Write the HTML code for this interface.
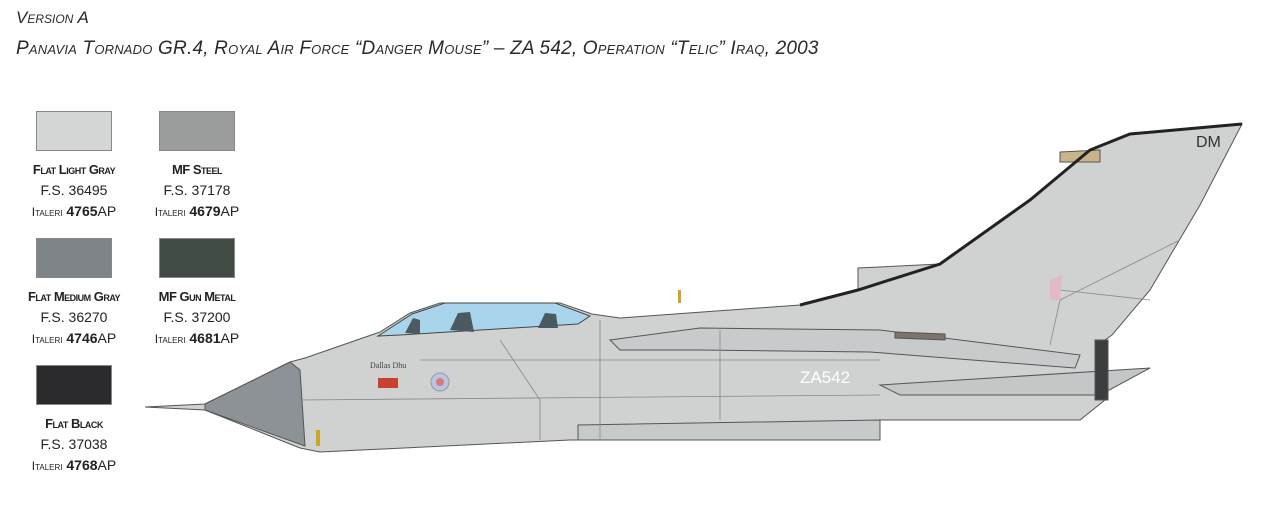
<!DOCTYPE html>
<html><head><meta charset="utf-8"><style>
body{margin:0;width:1280px;height:506px;background:#fff;overflow:hidden;position:relative;font-family:"Liberation Sans",sans-serif;color:#222}
.h{position:absolute;left:16px;font-style:italic;font-variant:small-caps;font-size:19px;white-space:nowrap;color:#2a2a2a}
.sw{position:absolute;width:76px;height:40px;border:1px solid #888;box-sizing:border-box}
.lb{position:absolute;width:140px;text-align:center;font-size:14px;line-height:21px;color:#222}
.lb b{font-variant:small-caps;font-size:13px;letter-spacing:-0.5px}
.it{font-variant:small-caps;font-size:12px}
.lb strong{font-size:14px}
</style></head><body>
<div class="h" style="top:8px;font-size:17px">Version A</div>
<div class="h" style="top:38px;letter-spacing:0.2px">Panavia Tornado GR.4, Royal Air Force “Danger Mouse” – ZA 542, Operation “Telic” Iraq, 2003</div>

<div class="sw" style="left:36px;top:111px;background:#d4d7d6"></div>
<div class="sw" style="left:159px;top:111px;background:#9b9d9d"></div>
<div class="sw" style="left:36px;top:238px;background:#7e8487"></div>
<div class="sw" style="left:159px;top:238px;background:#3f4b43"></div>
<div class="sw" style="left:36px;top:365px;background:#2b2b2d"></div>

<div class="lb" style="left:4px;top:159px"><b>Flat Light Gray</b><br>F.S. 36495<br><span class="it">Italeri</span> <strong>4765</strong>AP</div>
<div class="lb" style="left:127px;top:159px"><b>MF Steel</b><br>F.S. 37178<br><span class="it">Italeri</span> <strong>4679</strong>AP</div>
<div class="lb" style="left:4px;top:286px"><b>Flat Medium Gray</b><br>F.S. 36270<br><span class="it">Italeri</span> <strong>4746</strong>AP</div>
<div class="lb" style="left:127px;top:286px"><b>MF Gun Metal</b><br>F.S. 37200<br><span class="it">Italeri</span> <strong>4681</strong>AP</div>
<div class="lb" style="left:4px;top:413px"><b>Flat Black</b><br>F.S. 37038<br><span class="it">Italeri</span> <strong>4768</strong>AP</div>

<svg width="1280" height="506" style="position:absolute;left:0;top:0" viewBox="0 0 1280 506">
<g stroke="#555" stroke-width="1" fill="#cfd2d1">
<path d="M145,407 L205,404 L290,362 L305,358 L380,332 L410,313 L440,303 L560,303 L592,314 L620,318 L800,305 L858,290 L858,268 L940,264 L1030,200 L1090,150 L1130,134 L1242,124 L1200,205 L1150,290 L1112,335 L1105,340 L1105,400 L1080,420 L880,420 L870,440 L570,440 L320,452 L300,448 L205,410 Z"/>
<path d="M205,404 L290,362 L300,370 L305,446 L205,410 Z" fill="#8c9295"/>
<path d="M378,336 L412,314 L445,303 L555,303 L590,316 L578,324 L400,335 Z" fill="#a9d5ec" stroke="#444"/>
<path d="M610,340 L700,328 L880,330 L1080,355 L1075,368 L870,352 L700,350 L620,350 Z" fill="#c7cbcb"/>
<path d="M880,385 L1150,368 L1100,395 L900,395 Z" fill="#c3c7c7"/>
<path d="M1095,340 L1108,340 L1108,400 L1095,400 Z" fill="#3b3d3f"/>
<path d="M578,425 L880,420 L880,440 L578,440 Z" fill="#c6caca"/>
<path d="M1060,152 L1100,150 L1100,162 L1060,162 Z" fill="#c9b48a"/>
<path d="M895,332 L945,334 L945,340 L895,338 Z" fill="#7c7468"/>
</g>
<g fill="#4a5a60"><path d="M450,330 L458,313 L470,312 L474,332 Z"/><path d="M538,328 L545,313 L556,314 L558,328 Z"/><path d="M405,333 L413,318 L420,320 L420,334 Z"/></g>
<path d="M800,305 L858,290 L940,264 L1030,200 L1090,150 L1130,134 L1242,124" fill="none" stroke="#222" stroke-width="3"/>
<g stroke="#888" fill="none" stroke-width="0.8">
<path d="M300,400 L880,395"/><path d="M420,360 L880,360"/><path d="M600,320 L600,440"/><path d="M720,330 L720,420"/>
<path d="M1180,240 L1060,300 L1050,345"/><path d="M1150,300 L1060,290"/><path d="M500,340 L540,400 L540,440"/>
</g>
<circle cx="440" cy="382" r="9" fill="#b9c4e0" stroke="#999"/><circle cx="440" cy="382" r="4" fill="#d77"/>
<path d="M1050,280 L1062,275 L1060,300 L1050,300 Z" fill="#e4b9c6"/>
<text x="1196" y="147" font-family="Liberation Sans,sans-serif" font-size="16" fill="#333">DM</text>
<text x="800" y="383" font-family="Liberation Sans,sans-serif" font-size="17" fill="#fff">ZA542</text>
<text x="370" y="368" font-family="Liberation Serif,serif" font-size="8" fill="#444">Dallas Dhu</text>
<rect x="378" y="378" width="20" height="10" fill="#c9402f"/>
<rect x="316" y="430" width="4" height="16" fill="#c9a52a"/>
<rect x="678" y="290" width="3" height="13" fill="#c9a52a"/>
</svg>
</body></html>
